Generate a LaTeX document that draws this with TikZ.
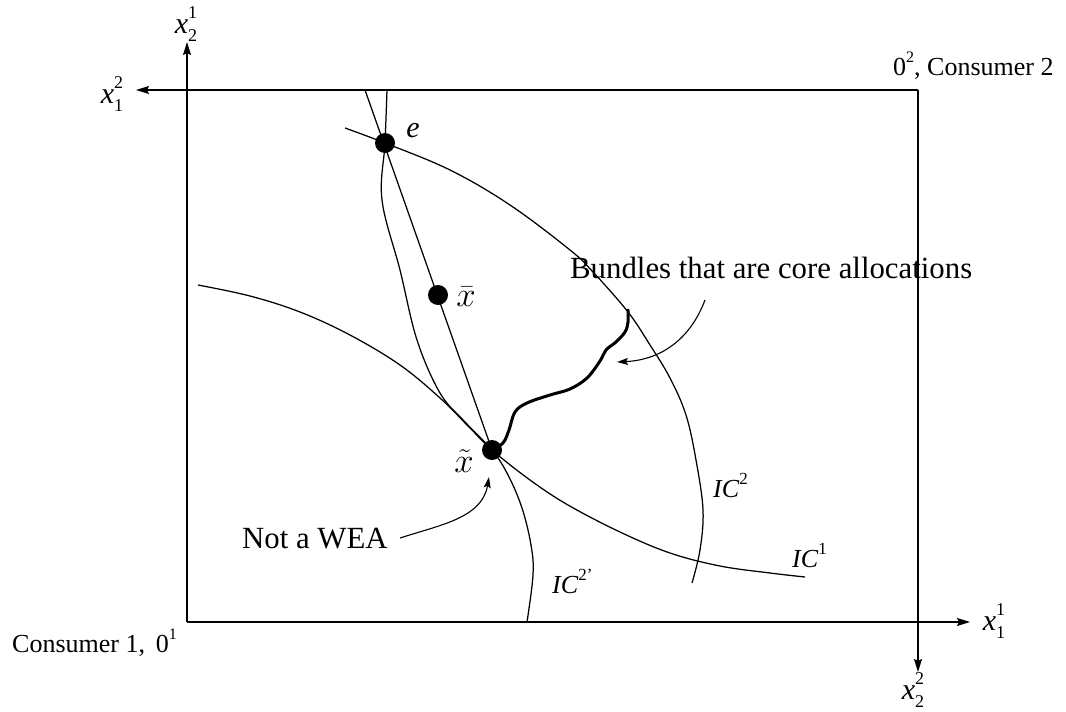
\documentclass[tikz,border=0pt]{standalone}
\usepackage{fontspec}
\setmainfont{Liberation Serif}
\usetikzlibrary{arrows.meta}
\newcommand{\xlab}[2]{\textit{x}\makebox[0pt][l]{\raisebox{0.5em}{\fontsize{18}{18}\selectfont #1}}\raisebox{-0.28em}{\fontsize{18}{18}\selectfont #2}}
\newcommand{\iclab}[1]{\textit{IC}\raisebox{0.5em}{\fontsize{17}{17}\selectfont #1}}
\begin{document}
\begin{tikzpicture}[x=1pt,y=-1pt,
  ax/.style={line width=1.3pt,-{Stealth[length=13pt,width=8pt,inset=2pt]}},
  crv/.style={line width=1.25pt},
  thk/.style={line width=3pt,line cap=round},
  dot/.style={circle,fill=black,inner sep=0pt,minimum size=20pt},
  lbl/.style={font=\fontsize{26}{30}\selectfont,inner sep=0pt},
  xl/.style={font=\fontsize{30}{32}\selectfont,inner sep=0pt},
  ann/.style={font=\fontsize{30.8}{34}\selectfont,inner sep=0pt},
  note/.style={line width=1.1pt,-{Stealth[length=11pt,width=7pt,inset=2pt]}}]
\useasboundingbox (0,0) rectangle (1066,712);
% axes / box
\coordinate (O1) at (187,622);
\coordinate (O2) at (918,90);
\coordinate (Ytop) at (187,42);
\coordinate (Xright) at (970,622);
\coordinate (Xleft) at (136,90);
\coordinate (Ybot) at (918,672);
\draw[ax] (O1) -- (Ytop);
\draw[ax] (O1) -- (Xright);
\draw[ax] (O2) -- (Xleft);
\draw[ax] (O2) -- (Ybot);
% key points
\coordinate (E) at (385,143);
\coordinate (XB) at (438,295);
\coordinate (XT) at (492,450);
\coordinate (Ltop) at (365,90);
% straight line through e, xbar, xtilde
\draw[crv] (Ltop) -- (XT);
% IC2 through e
\draw[crv] plot[smooth,tension=0.6] coordinates {(345,128) (E) (450,170) (510,205) (570,250) (593,272) (628,312) (650,345) (670,378) (686,415) (696,460) (703,510) (700,550) (692,583)};
% IC2' through e and xtilde
\draw[crv] plot[smooth,tension=0.6] coordinates {(387,90) (E) (382,200) (400,270) (417,340) (440,393) (465,422) (XT) (508,475) (522,508) (531,545) (533,575) (527,622)};
% IC1 through xtilde
\draw[crv] plot[smooth,tension=0.6] coordinates {(198,285) (250,296) (300,312) (350,335) (400,365) (440,398) (470,428) (XT) (530,480) (568,505) (620,532) (670,553) (720,566) (770,573) (805,577)};
% core allocations (thick wiggly)
\draw[thk] plot[smooth,tension=0.6] coordinates {(XT) (503,443) (509,430) (515,412) (527,403) (550,395) (570,389) (587,378) (600,361) (606,350) (616,342) (625,332) (628,322) (628,310)};
% dots
\node[dot] (e) at (E) {};
\node[dot] (xb) at (XB) {};
\node[dot] (xt) at (XT) {};
% point labels
\node[xl] (le) at (413,131) {\textit{e}};
\node[lbl] (lxb) at (466,297) {\scalebox{1.4}{$\bar{x}$}};
\node[lbl] (lxt) at (464,461) {\scalebox{1.4}{$\tilde{x}$}};
% axis labels
\node[xl] (lx21) at (186,24) {\xlab{1}{2}};
\node[xl] (lx12) at (112,94) {\xlab{2}{1}};
\node[xl] (lx11) at (994,621) {\xlab{1}{1}};
\node[xl] (lx22) at (913,690) {\xlab{2}{2}};
% origin labels
\node[lbl,anchor=base west] (c2) at (893,75) {0\raisebox{0.5em}{\fontsize{16}{16}\selectfont 2}, Consumer 2};
\node[lbl,anchor=base west] (c1) at (12,652) {Consumer 1,\, 0\raisebox{0.5em}{\fontsize{16}{16}\selectfont 1}};
% IC labels
\node[lbl,anchor=base west] (ic2) at (713,497) {\iclab{2}};
\node[lbl,anchor=base west] (ic1) at (792,567) {\iclab{1}};
\node[lbl,anchor=base west] (ic2p) at (552,593) {\iclab{2'}};
% annotations
\node[ann,anchor=base west] (core) at (570,278) {Bundles that are core allocations};
\node[ann,anchor=base west] (wea) at (242,548) {Not a WEA};
\coordinate (coreS) at (705,300);
\coordinate (coreT) at (617,362);
\draw[note] (coreS) .. controls (690,340) and (660,360) .. (coreT);
\coordinate (weaS) at (400,538);
\coordinate (weaT) at (489,477);
\draw[note] (weaS) .. controls (440,525) and (482,518) .. (weaT);
\end{tikzpicture}
\end{document}
